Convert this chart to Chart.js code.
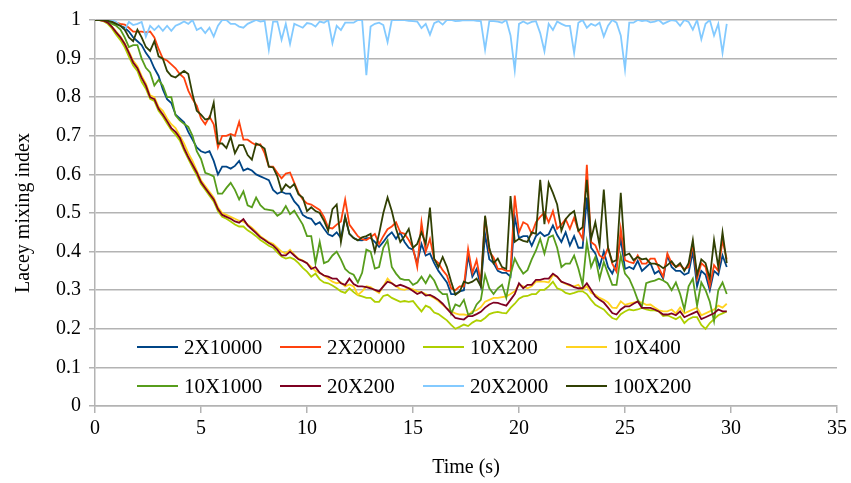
<!DOCTYPE html>
<html>
<head>
<meta charset="utf-8">
<title>Lacey mixing index</title>
<script src="https://cdn.jsdelivr.net/npm/chart.js@4/dist/chart.umd.min.js"></script>
<style>
  html, body { margin: 0; padding: 0; background: #ffffff; }
  canvas { display: block; }
</style>
</head>
<body>
<canvas id="mixChart" width="851" height="483"></canvas>
<script>
// Sampling instants (s)
const timeSec = [
  0,0.2,0.4,0.6,0.8,1,1.2,1.4,1.6,1.8,
  2,2.2,2.4,2.6,2.8,3,3.2,3.4,3.6,3.8,
  4,4.2,4.4,4.6,4.8,5,5.2,5.4,5.6,5.8,
  6,6.2,6.4,6.6,6.8,7,7.2,7.4,7.6,7.8,
  8,8.2,8.4,8.6,8.8,9,9.2,9.4,9.6,9.8,
  10,10.2,10.4,10.6,10.8,11,11.2,11.4,11.6,11.8,
  12,12.2,12.4,12.6,12.8,13,13.2,13.4,13.6,13.8,
  14,14.2,14.4,14.6,14.8,15,15.2,15.4,15.6,15.8,
  16,16.2,16.4,16.6,16.8,17,17.2,17.4,17.6,17.8,
  18,18.2,18.4,18.6,18.8,19,19.2,19.4,19.6,19.8,
  20,20.2,20.4,20.6,20.8,21,21.2,21.4,21.6,21.8,
  22,22.2,22.4,22.6,22.8,23,23.2,23.4,23.6,23.8,
  24,24.2,24.4,24.6,24.8,25,25.2,25.4,25.6,25.8,
  26,26.2,26.4,26.6,26.8,27,27.2,27.4,27.6,27.8,
  28,28.2,28.4,28.6,28.8,29,29.2,29.4,29.6,29.8
];

// Lacey mixing index per configuration
const mix2x10000 = [
  1.0,1.0,1.0,0.998,0.995,0.99,0.985,0.98,0.97,0.955,
  0.945,0.935,0.915,0.9,0.875,0.855,0.82,0.795,0.785,0.755,
  0.745,0.735,0.71,0.69,0.67,0.66,0.656,0.66,0.635,0.60,
  0.62,0.62,0.615,0.622,0.635,0.61,0.615,0.61,0.60,0.595,
  0.59,0.585,0.56,0.55,0.555,0.55,0.55,0.53,0.518,0.495,
  0.488,0.485,0.47,0.476,0.46,0.445,0.44,0.45,0.435,0.49,
  0.446,0.435,0.43,0.429,0.435,0.435,0.425,0.412,0.425,0.44,
  0.45,0.433,0.45,0.425,0.41,0.405,0.37,0.42,0.39,0.395,
  0.37,0.35,0.335,0.32,0.29,0.29,0.297,0.30,0.39,0.335,
  0.355,0.31,0.445,0.38,0.37,0.35,0.345,0.345,0.335,0.49,
  0.435,0.44,0.44,0.415,0.44,0.45,0.44,0.445,0.468,0.443,
  0.425,0.45,0.416,0.44,0.41,0.41,0.54,0.41,0.395,0.36,
  0.40,0.36,0.343,0.37,0.433,0.355,0.36,0.355,0.376,0.35,
  0.36,0.37,0.343,0.35,0.33,0.39,0.36,0.35,0.35,0.34,
  0.345,0.40,0.31,0.35,0.34,0.30,0.35,0.34,0.39,0.36
];
const mix2x20000 = [
  1.0,1.0,1.0,0.998,0.995,0.993,0.99,0.988,0.98,0.97,
  0.97,0.97,0.968,0.97,0.955,0.925,0.90,0.895,0.885,0.875,
  0.86,0.85,0.817,0.795,0.778,0.745,0.73,0.75,0.73,0.67,
  0.70,0.70,0.705,0.70,0.736,0.69,0.69,0.682,0.676,0.678,
  0.655,0.62,0.62,0.604,0.59,0.602,0.605,0.578,0.552,0.535,
  0.525,0.522,0.515,0.508,0.49,0.462,0.46,0.47,0.478,0.535,
  0.47,0.455,0.44,0.432,0.43,0.437,0.446,0.42,0.44,0.458,
  0.465,0.476,0.45,0.446,0.43,0.41,0.36,0.476,0.40,0.433,
  0.38,0.37,0.352,0.338,0.305,0.30,0.31,0.31,0.407,0.345,
  0.378,0.32,0.49,0.40,0.385,0.355,0.355,0.35,0.35,0.545,
  0.45,0.476,0.47,0.446,0.476,0.49,0.501,0.476,0.505,0.459,
  0.47,0.484,0.459,0.488,0.454,0.433,0.625,0.425,0.416,0.39,
  0.382,0.41,0.369,0.348,0.459,0.378,0.373,0.37,0.39,0.369,
  0.369,0.382,0.382,0.357,0.335,0.395,0.37,0.36,0.365,0.355,
  0.36,0.42,0.33,0.37,0.36,0.31,0.365,0.35,0.43,0.38
];
const mix10x200 = [
  1.0,1.0,0.997,0.99,0.978,0.962,0.948,0.93,0.905,0.882,
  0.868,0.84,0.822,0.796,0.79,0.765,0.75,0.732,0.715,0.703,
  0.688,0.662,0.64,0.618,0.598,0.575,0.56,0.545,0.53,0.505,
  0.49,0.485,0.478,0.47,0.465,0.465,0.455,0.448,0.44,0.43,
  0.423,0.415,0.41,0.398,0.387,0.382,0.385,0.38,0.37,0.358,
  0.348,0.335,0.343,0.328,0.32,0.318,0.312,0.305,0.297,0.293,
  0.305,0.295,0.287,0.284,0.28,0.28,0.27,0.27,0.285,0.288,
  0.28,0.275,0.27,0.272,0.27,0.272,0.258,0.245,0.26,0.255,
  0.242,0.238,0.23,0.222,0.21,0.20,0.205,0.211,0.207,0.216,
  0.222,0.22,0.228,0.238,0.242,0.244,0.241,0.24,0.254,0.265,
  0.278,0.284,0.285,0.29,0.29,0.301,0.301,0.31,0.322,0.305,
  0.301,0.293,0.29,0.293,0.297,0.297,0.29,0.275,0.262,0.256,
  0.25,0.238,0.228,0.224,0.238,0.245,0.25,0.248,0.25,0.254,
  0.25,0.248,0.248,0.245,0.233,0.235,0.23,0.225,0.232,0.215,
  0.225,0.23,0.23,0.21,0.20,0.215,0.225,0.235,0.24,0.245
];
const mix10x400 = [
  1.0,1.0,0.998,0.993,0.983,0.97,0.957,0.94,0.918,0.895,
  0.88,0.855,0.835,0.805,0.80,0.775,0.765,0.745,0.73,0.72,
  0.70,0.68,0.655,0.635,0.61,0.585,0.57,0.555,0.54,0.515,
  0.50,0.495,0.49,0.485,0.48,0.478,0.47,0.462,0.452,0.44,
  0.432,0.425,0.42,0.41,0.40,0.395,0.405,0.392,0.382,0.377,
  0.37,0.36,0.35,0.345,0.338,0.33,0.322,0.318,0.32,0.31,
  0.315,0.31,0.288,0.297,0.31,0.308,0.30,0.293,0.31,0.33,
  0.318,0.31,0.303,0.301,0.305,0.302,0.297,0.295,0.29,0.285,
  0.28,0.272,0.262,0.253,0.245,0.24,0.237,0.237,0.235,0.245,
  0.248,0.256,0.27,0.275,0.28,0.28,0.282,0.284,0.29,0.297,
  0.314,0.31,0.305,0.31,0.322,0.322,0.322,0.32,0.339,0.335,
  0.322,0.316,0.312,0.31,0.314,0.301,0.31,0.293,0.288,0.28,
  0.275,0.268,0.255,0.254,0.271,0.262,0.265,0.268,0.271,0.268,
  0.262,0.263,0.255,0.248,0.245,0.245,0.25,0.24,0.255,0.24,
  0.245,0.25,0.255,0.235,0.24,0.245,0.25,0.26,0.255,0.265
];
const mix10x1000 = [
  1.0,1.0,1.0,0.995,0.99,0.985,0.975,0.955,0.93,0.935,
  0.935,0.90,0.876,0.864,0.83,0.845,0.83,0.80,0.80,0.753,
  0.74,0.731,0.723,0.70,0.66,0.64,0.604,0.60,0.595,0.55,
  0.55,0.565,0.578,0.56,0.535,0.556,0.52,0.515,0.54,0.52,
  0.51,0.508,0.506,0.493,0.50,0.518,0.497,0.506,0.488,0.47,
  0.44,0.44,0.37,0.425,0.37,0.375,0.39,0.40,0.38,0.355,
  0.345,0.34,0.32,0.345,0.405,0.40,0.356,0.36,0.41,0.429,
  0.36,0.343,0.33,0.327,0.327,0.314,0.32,0.335,0.318,0.339,
  0.325,0.30,0.29,0.29,0.239,0.263,0.258,0.275,0.237,0.24,
  0.263,0.275,0.34,0.305,0.29,0.305,0.314,0.28,0.34,0.382,
  0.36,0.343,0.352,0.38,0.403,0.433,0.395,0.437,0.442,0.41,
  0.36,0.369,0.369,0.39,0.356,0.314,0.425,0.36,0.386,0.33,
  0.373,0.343,0.314,0.314,0.39,0.343,0.33,0.305,0.275,0.258,
  0.318,0.322,0.325,0.33,0.325,0.318,0.30,0.32,0.29,0.25,
  0.31,0.33,0.26,0.32,0.30,0.27,0.22,0.30,0.32,0.29
];
const mix20x200 = [
  1.0,1.0,0.998,0.993,0.982,0.968,0.955,0.938,0.915,0.89,
  0.875,0.85,0.83,0.80,0.795,0.77,0.755,0.738,0.72,0.71,
  0.695,0.668,0.645,0.625,0.605,0.58,0.565,0.55,0.535,0.51,
  0.495,0.49,0.485,0.478,0.475,0.484,0.468,0.458,0.448,0.437,
  0.43,0.422,0.416,0.405,0.39,0.39,0.40,0.39,0.38,0.376,
  0.37,0.355,0.36,0.345,0.338,0.335,0.33,0.33,0.318,0.314,
  0.33,0.316,0.31,0.31,0.308,0.305,0.301,0.297,0.31,0.322,
  0.318,0.31,0.314,0.31,0.305,0.298,0.29,0.295,0.286,0.288,
  0.282,0.275,0.265,0.252,0.24,0.228,0.226,0.224,0.233,0.233,
  0.238,0.244,0.255,0.263,0.268,0.267,0.263,0.26,0.275,0.29,
  0.318,0.305,0.314,0.314,0.327,0.327,0.33,0.33,0.343,0.335,
  0.322,0.318,0.314,0.308,0.305,0.305,0.318,0.301,0.284,0.275,
  0.268,0.255,0.241,0.237,0.25,0.258,0.258,0.265,0.271,0.254,
  0.254,0.254,0.25,0.245,0.237,0.237,0.24,0.235,0.245,0.23,
  0.235,0.24,0.245,0.225,0.23,0.235,0.24,0.25,0.245,0.245
];
const mix20x2000 = [
  1.0,1.0,1.0,1.0,1.0,0.995,0.985,0.974,0.995,0.987,
  0.99,0.995,0.957,0.985,0.974,0.985,0.972,0.985,0.972,0.985,
  0.99,0.996,0.99,1.0,0.974,0.98,0.966,0.98,0.957,0.985,
  1.0,1.0,0.99,0.99,0.983,0.98,0.99,0.995,1.0,0.996,
  0.998,0.923,0.996,0.996,0.949,0.99,0.938,0.99,0.985,0.98,
  0.992,0.99,0.983,0.996,0.993,1.0,0.94,0.985,0.974,0.993,
  0.993,0.993,1.0,1.0,0.857,0.983,0.99,0.993,0.987,0.943,
  1.0,1.0,1.0,1.0,0.998,0.997,0.996,0.979,0.99,0.962,
  0.992,0.997,0.988,1.0,1.0,0.997,0.998,1.0,0.999,1.0,
  0.998,0.997,0.923,0.997,0.997,0.996,0.993,1.0,0.96,0.87,
  0.99,0.996,0.99,0.995,0.997,0.966,0.919,0.99,0.974,0.996,
  0.99,0.985,0.985,0.915,0.993,1.0,0.98,0.99,0.985,0.993,
  0.957,0.985,1.0,0.993,0.96,0.872,0.993,0.993,1.0,0.997,
  0.999,0.994,0.996,1.0,0.99,0.995,1.0,0.998,0.985,1.0,
  0.995,0.975,1.0,0.95,0.99,1.0,0.96,0.99,0.915,0.99
];
const mix100x200 = [
  1.0,1.0,1.0,0.998,0.995,0.99,0.985,0.975,0.955,0.945,
  0.975,0.955,0.93,0.92,0.945,0.906,0.90,0.868,0.855,0.851,
  0.86,0.868,0.86,0.808,0.765,0.755,0.742,0.745,0.786,0.68,
  0.68,0.668,0.697,0.655,0.676,0.676,0.65,0.638,0.68,0.675,
  0.667,0.62,0.618,0.595,0.557,0.574,0.565,0.575,0.548,0.54,
  0.505,0.515,0.505,0.50,0.48,0.454,0.51,0.522,0.425,0.49,
  0.446,0.435,0.429,0.437,0.44,0.446,0.40,0.446,0.50,0.54,
  0.505,0.459,0.425,0.44,0.459,0.41,0.42,0.45,0.42,0.514,
  0.382,0.36,0.386,0.36,0.322,0.288,0.296,0.322,0.318,0.322,
  0.33,0.31,0.493,0.41,0.37,0.382,0.36,0.355,0.544,0.425,
  0.433,0.428,0.425,0.45,0.446,0.586,0.471,0.578,0.552,0.522,
  0.454,0.484,0.497,0.505,0.454,0.463,0.586,0.433,0.476,0.416,
  0.561,0.41,0.373,0.378,0.552,0.39,0.395,0.378,0.386,0.38,
  0.382,0.369,0.369,0.365,0.357,0.365,0.375,0.36,0.37,0.35,
  0.37,0.43,0.34,0.38,0.37,0.33,0.43,0.36,0.45,0.37
];

const seriesNames = ['2X10000', '2X20000', '10X200', '10X400', '10X1000', '20X200', '20X2000', '100X200'];
const seriesValues = [mix2x10000, mix2x20000, mix10x200, mix10x400, mix10x1000, mix20x200, mix20x2000, mix100x200];
const seriesColors = ['#004586', '#ff420e', '#aecf00', '#ffd320', '#579d1c', '#7e0021', '#83caff', '#314004'];

const xTickValues = [0, 5, 10, 15, 20, 25, 30, 35];
const yTickValues = [0, 0.1, 0.2, 0.3, 0.4, 0.5, 0.6, 0.7, 0.8, 0.9, 1];
const yTickLabels = ['0', '0.1', '0.2', '0.3', '0.4', '0.5', '0.6', '0.7', '0.8', '0.9', '1'];

const FONT_FAMILY = '"Liberation Serif", "Times New Roman", serif';
const GRID_COLOR = '#b3b3b3';

// Two-row legend with line samples, drawn inside the plot area
const lineLegend = {
  id: 'lineLegend',
  afterDatasetsDraw(chart) {
    const ctx = chart.ctx;
    const left = 137, colStep = 143, rowTop = 347, rowStep = 39, sample = 41;
    ctx.save();
    ctx.font = '21px ' + FONT_FAMILY;
    ctx.textBaseline = 'middle';
    ctx.textAlign = 'left';
    chart.data.datasets.forEach((ds, i) => {
      const x = left + (i % 4) * colStep;
      const y = rowTop + Math.floor(i / 4) * rowStep;
      ctx.strokeStyle = ds.borderColor;
      ctx.lineWidth = 2;
      ctx.beginPath();
      ctx.moveTo(x, y);
      ctx.lineTo(x + sample, y);
      ctx.stroke();
      ctx.fillStyle = '#000000';
      ctx.fillText(ds.label, x + sample + 6, y + 1);
    });
    ctx.restore();
  }
};

const datasets = seriesNames.map((name, i) => ({
  label: name,
  data: seriesValues[i].map((v, k) => ({ x: timeSec[k], y: v })),
  borderColor: seriesColors[i],
  backgroundColor: seriesColors[i],
  borderWidth: 1.8,
  pointRadius: 0,
  fill: false,
  tension: 0,
  order: seriesNames.length - i
}));

new Chart(document.getElementById('mixChart'), {
  type: 'line',
  data: { datasets },
  options: {
    responsive: false,
    animation: false,
    parsing: false,
    devicePixelRatio: 1,
    layout: { padding: { left: 0, right: 13, top: 15, bottom: 0 } },
    plugins: {
      legend: { display: false },
      tooltip: { enabled: false },
      title: { display: false }
    },
    scales: {
      x: {
        type: 'linear',
        min: 0,
        max: 35,
        afterBuildTicks: (scale) => { scale.ticks = xTickValues.map(v => ({ value: v })); },
        afterFit: (scale) => { scale.height = 77; },
        ticks: {
          color: '#000000',
          font: { family: FONT_FAMILY, size: 20 },
          padding: 4,
          maxRotation: 0,
          autoSkip: false,
          callback: (v) => String(v)
        },
        grid: { display: true, drawOnChartArea: false, drawTicks: true, tickLength: 7, color: GRID_COLOR, lineWidth: 1.5 },
        border: { display: true, color: GRID_COLOR, width: 1.5 },
        title: {
          display: true,
          text: 'Time (s)',
          color: '#000000',
          font: { family: FONT_FAMILY, size: 20 },
          padding: { top: 0, bottom: 3 }
        }
      },
      y: {
        type: 'linear',
        min: 0,
        max: 1,
        afterBuildTicks: (scale) => { scale.ticks = yTickValues.map(v => ({ value: v })); },
        afterFit: (scale) => { scale.width = 95; },
        ticks: {
          color: '#000000',
          font: { family: FONT_FAMILY, size: 20 },
          padding: 8,
          autoSkip: false,
          callback: (v, i) => yTickLabels[i]
        },
        grid: { display: true, drawOnChartArea: true, drawTicks: true, tickLength: 6, color: GRID_COLOR, lineWidth: 1.5 },
        border: { display: true, color: GRID_COLOR, width: 1.5 },
        title: {
          display: true,
          text: 'Lacey mixing index',
          color: '#000000',
          font: { family: FONT_FAMILY, size: 20 },
          padding: { top: 12, bottom: 0 }
        }
      }
    }
  },
  plugins: [lineLegend]
});
</script>
</body>
</html>
